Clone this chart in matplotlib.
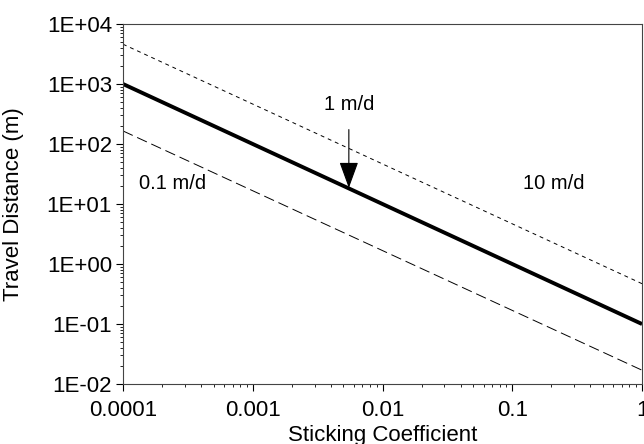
import numpy as np
import matplotlib.pyplot as plt
from matplotlib.ticker import FuncFormatter, LogLocator, NullFormatter

plt.rcParams['font.family'] = ['Liberation Sans', 'DejaVu Sans']

# sticking coefficient range and travel distance at the ends (m)
sc = np.array([1e-4, 1.0])
d_01 = np.array([165.0, 0.017])   # 0.1 m/d
d_1 = np.array([1000.0, 0.1])     # 1 m/d
d_10 = np.array([4600.0, 0.47])   # 10 m/d

fig = plt.figure(figsize=(6.44, 4.44), dpi=100)
ax = fig.add_axes([0.191, 0.135, 0.806, 0.811])

ax.plot(sc, d_10, color='k', lw=0.7, dashes=(4, 4))
ax.plot(sc, d_1, color='k', lw=2.8, solid_capstyle='butt')
ax.plot(sc, d_01, color='k', lw=0.7, dashes=(11, 5))

ax.set_xscale('log')
ax.set_yscale('log')
ax.set_xlim(1e-4, 1)
ax.set_ylim(1e-2, 1e4)

ax.xaxis.set_major_locator(LogLocator(base=10, numticks=10))
ax.yaxis.set_major_locator(LogLocator(base=10, numticks=10))
ax.xaxis.set_minor_locator(LogLocator(base=10, subs=np.arange(2, 10), numticks=20))
ax.yaxis.set_minor_locator(LogLocator(base=10, subs=np.arange(2, 10), numticks=20))
ax.xaxis.set_minor_formatter(NullFormatter())
ax.yaxis.set_minor_formatter(NullFormatter())
ax.xaxis.set_major_formatter(FuncFormatter(lambda v, p: ('%.4f' % v).rstrip('0').rstrip('.')))
ax.yaxis.set_major_formatter(FuncFormatter(lambda v, p: '1E%+03d' % int(round(np.log10(v)))))

ax.tick_params(which='major', direction='out', length=5, width=0.8, labelsize=16, pad=3)
ax.tick_params(axis='x', which='major', pad=6.5)
ax.tick_params(which='minor', direction='out', length=2.5, width=0.6)
for s in ax.spines.values():
    s.set_linewidth(0.8)
    s.set_color('#444444')

ax.set_xlabel('Sticking Coefficient', fontsize=16)
ax.set_ylabel('Travel Distance (m)', fontsize=16)
ax.xaxis.set_label_coords(0.5, -0.113)
ax.yaxis.set_label_coords(-0.19, 0.5)

ax.annotate('1 m/d', xy=(0.0055, 18.5), xytext=(0.0055, 450), ha='center', va='center',
            fontsize=14.5,
            arrowprops=dict(arrowstyle='-|>,head_length=0.55,head_width=0.2', color='k',
                            lw=0.8, mutation_scale=30, shrinkA=9, shrinkB=0))
ax.text(2.4e-4, 22, '0.1 m/d', fontsize=14.5, ha='center', va='center')
ax.text(0.21, 22, '10 m/d', fontsize=14.5, ha='center', va='center')

fig.savefig('out.png', dpi=100)
